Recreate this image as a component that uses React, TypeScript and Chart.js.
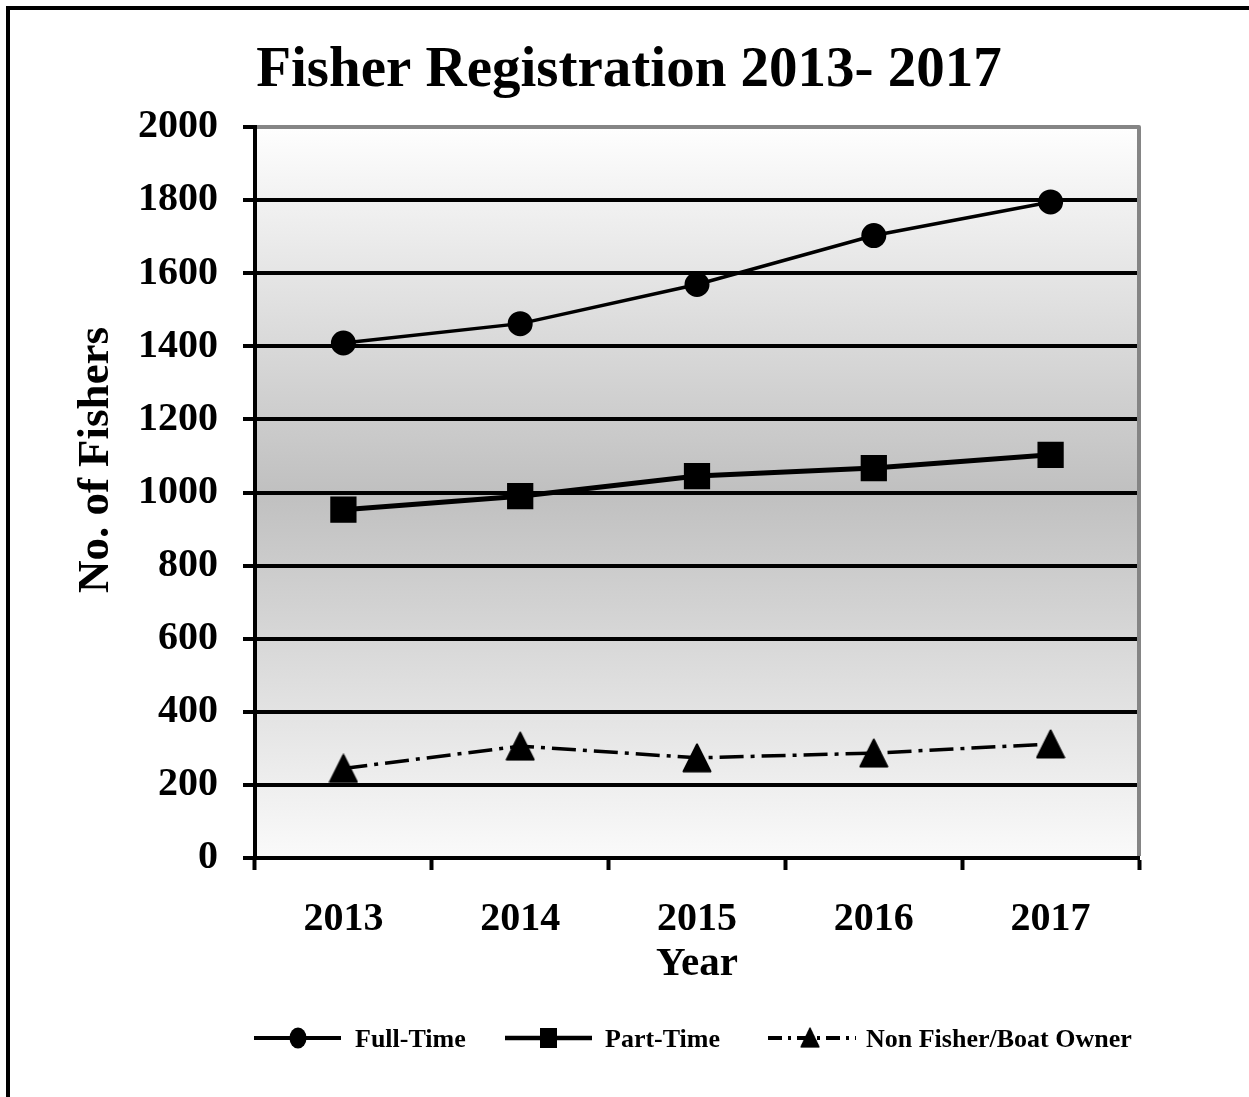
import React, { useEffect, useRef } from "react";
import { Chart, registerables } from "chart.js";

Chart.register(...registerables);

const years = ["2013", "2014", "2015", "2016", "2017"];
const fullTime = [1409, 1462, 1569, 1703, 1795];
const partTime = [953, 990, 1045, 1067, 1103];
const nonFisher = [245, 306, 274, 287, 312];
const yMin = 0;
const yMax = 2000;
const yStep = 200;
const seriesNames = ["Full-Time", "Part-Time", "Non Fisher/Boat Owner"];
const chartTitle = "Fisher Registration 2013- 2017";
const yTitle = "No. of Fishers";
const xTitle = "Year";

const FONT = "'Liberation Serif', 'Times New Roman', serif";

function makeTriangle(size: number) {
  const c = document.createElement("canvas");
  c.width = size;
  c.height = size;
  const g = c.getContext("2d")!;
  g.fillStyle = "#000";
  g.strokeStyle = "#000";
  g.lineJoin = "round";
  g.lineWidth = 2;
  g.beginPath();
  g.moveTo(size / 2, 1.5);
  g.lineTo(size - 1.5, size - 1.5);
  g.lineTo(1.5, size - 1.5);
  g.closePath();
  g.fill();
  g.stroke();
  return c;
}

function drawLegend(chart: any, tri: HTMLCanvasElement) {
  const ctx = chart.ctx as CanvasRenderingContext2D;
  const y = 1038;
  ctx.save();
  ctx.strokeStyle = "#000";
  ctx.fillStyle = "#000";
  ctx.font = `bold 26px ${FONT}`;
  ctx.textBaseline = "alphabetic";
  ctx.textAlign = "left";

  // Full-Time
  ctx.lineWidth = 4;
  ctx.beginPath();
  ctx.moveTo(254, y);
  ctx.lineTo(341, y);
  ctx.stroke();
  ctx.beginPath();
  ctx.ellipse(298, y, 8.5, 10.5, 0, 0, Math.PI * 2);
  ctx.fill();
  ctx.fillText(seriesNames[0], 355, 1047);

  // Part-Time
  ctx.lineWidth = 4.5;
  ctx.beginPath();
  ctx.moveTo(505, y);
  ctx.lineTo(592, y);
  ctx.stroke();
  ctx.fillRect(540, y - 10, 17, 20);
  ctx.fillText(seriesNames[1], 605, 1047);

  // Non Fisher
  ctx.lineWidth = 4;
  ctx.setLineDash([14, 6, 3, 6]);
  ctx.beginPath();
  ctx.moveTo(768, y);
  ctx.lineTo(856, y);
  ctx.stroke();
  ctx.setLineDash([]);
  ctx.drawImage(tri, 810 - 10, y - 11, 20, 21);
  ctx.fillText(seriesNames[2], 866, 1047);
  ctx.restore();
}

export default function App() {
  const ref = useRef<HTMLCanvasElement>(null);

  useEffect(() => {
    const canvas = ref.current!;
    const tri = makeTriangle(30);

    const decor = {
      id: "decor",
      beforeDraw(chart: any) {
        const { ctx, chartArea } = chart;
        const { left, top, right, bottom } = chartArea;
        ctx.save();
        ctx.fillStyle = "#fff";
        ctx.fillRect(0, 0, chart.width, chart.height);
        const g = ctx.createLinearGradient(0, top, 0, bottom);
        g.addColorStop(0, "#fefefe");
        g.addColorStop(0.5, "#c0c0c0");
        g.addColorStop(1, "#fafafa");
        ctx.fillStyle = g;
        ctx.fillRect(left, top, right - left, bottom - top);
        // outer frame (left and top)
        ctx.fillStyle = "#000";
        ctx.fillRect(6, 6, 4, chart.height);
        ctx.fillRect(6, 6, chart.width, 4);
        // title
        ctx.font = `bold 57px ${FONT}`;
        ctx.textAlign = "center";
        ctx.textBaseline = "alphabetic";
        ctx.fillText(chartTitle, 629, 86);
        // y title
        ctx.save();
        ctx.translate(108, 460);
        ctx.rotate(-Math.PI / 2);
        ctx.font = `bold 45px ${FONT}`;
        ctx.fillText(yTitle, 0, 0);
        ctx.restore();
        ctx.restore();
      },
      beforeDatasetsDraw(chart: any) {
        const { ctx, chartArea } = chart;
        const { left, top, right, bottom } = chartArea;
        ctx.save();
        ctx.strokeStyle = "#858585";
        ctx.lineWidth = 4;
        ctx.lineJoin = "round";
        ctx.beginPath();
        ctx.moveTo(left + 2, top);
        ctx.lineTo(right, top);
        ctx.lineTo(right, bottom - 2);
        ctx.stroke();
        ctx.restore();
      },
      afterDraw(chart: any) {
        drawLegend(chart, tri);
      },
    };

    const chart = new Chart(canvas, {
      type: "line",
      data: {
        labels: years,
        datasets: [
          {
            label: seriesNames[0],
            data: fullTime,
            borderColor: "#000",
            backgroundColor: "#000",
            borderWidth: 3.5,
            pointStyle: "circle",
            pointRadius: 11,
            pointBorderWidth: 3,
            pointBackgroundColor: "#000",
            pointBorderColor: "#000",
            tension: 0,
          },
          {
            label: seriesNames[1],
            data: partTime,
            borderColor: "#000",
            backgroundColor: "#000",
            borderWidth: 5,
            pointStyle: "rect",
            pointRadius: 17.5,
            pointBorderWidth: 1.5,
            pointBackgroundColor: "#000",
            pointBorderColor: "#000",
            tension: 0,
          },
          {
            label: seriesNames[2],
            data: nonFisher,
            borderColor: "#000",
            backgroundColor: "#000",
            borderWidth: 3.5,
            borderDash: [24, 7, 4, 7],
            pointStyle: tri as any,
            pointRadius: 14,
            tension: 0,
          },
        ],
      },
      options: {
        responsive: false,
        animation: false,
        layout: { padding: { top: 127, right: 110, bottom: 109, left: 0 } },
        plugins: {
          legend: { display: false },
          title: { display: false },
          tooltip: { enabled: false },
        },
        scales: {
          x: {
            type: "category",
            offset: true,
            grid: {
              display: true,
              drawOnChartArea: false,
              drawTicks: true,
              tickLength: 12,
              tickWidth: 4,
              tickColor: "#000",
              offset: true,
            },
            border: { display: true, color: "#000", width: 4 },
            ticks: {
              color: "#000",
              font: { family: FONT, size: 40, weight: "bold" },
              padding: 26,
              maxRotation: 0,
            },
            title: {
              display: true,
              text: xTitle,
              color: "#000",
              font: { family: FONT, size: 41, weight: "bold", lineHeight: 1.1 },
              padding: { top: 0, bottom: 1 },
            },
            afterFit: (s: any) => {
              s.height = 130;
            },
          },
          y: {
            min: yMin,
            max: yMax,
            ticks: {
              stepSize: yStep,
              color: "#000",
              font: { family: FONT, size: 40, weight: "bold" },
              padding: 25,
              callback: (v: any) => String(v),
            },
            grid: {
              color: (c: any) => (c.tick && c.tick.value === yMax ? "rgba(0,0,0,0)" : "#000"),
              lineWidth: 4,
              drawTicks: true,
              tickLength: 12,
              tickWidth: 4,
              tickColor: "#000",
            },
            border: { display: true, color: "#000", width: 4 },
            afterFit: (s: any) => {
              s.width = 255;
            },
          },
        },
      },
      plugins: [decor],
    } as any);

    return () => chart.destroy();
  }, []);

  return (
    <div style={{ position: "absolute", left: 0, top: 0, width: 1249, height: 1097 }}>
      <canvas ref={ref} width={1249} height={1097} style={{ display: "block", width: 1249, height: 1097 }} />
    </div>
  );
}
